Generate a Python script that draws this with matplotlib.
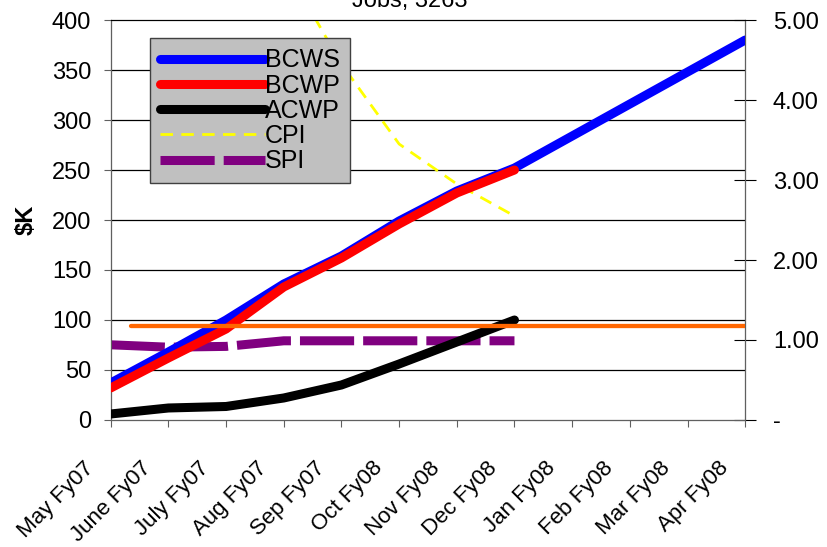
import matplotlib
matplotlib.use("Agg")
import matplotlib.pyplot as plt
from matplotlib.ticker import FuncFormatter, MultipleLocator
from matplotlib.transforms import ScaledTranslation

plt.rcParams["font.family"] = ["Liberation Sans", "DejaVu Sans"]

months = ["May Fy07", "June Fy07", "July Fy07", "Aug Fy07", "Sep Fy07", "Oct Fy08",
          "Nov Fy08", "Dec Fy08", "Jan Fy08", "Feb Fy08", "Mar Fy08", "Apr Fy08"]

# $K, cumulative
bcws = [37, 68, 100, 136, 164, 199, 229, 252, 284, 316, 348, 380]
bcwp = [32, 62, 91, 133, 162, 196, 227, 250]
acwp = [6, 12, 13.5, 22, 35, 56, 78, 100]

# indices (right axis)
cpi = [6.5, 6.2, 6.6, 5.7, 4.45, 3.45, 2.95, 2.55]
spi = [0.94, 0.91, 0.92, 0.99, 0.99, 0.99, 0.99, 0.99]

threshold = 94  # orange reference line, $K axis
title = "Jobs, 3263"

x_all = range(len(months))
x_act = range(len(bcwp))

fig = plt.figure(figsize=(8.28, 5.47), dpi=100)
ax = fig.add_axes([0.1337, 0.2322, 0.7663, 0.7312])
ax2 = ax.twinx()

ax.plot(x_all, bcws, color="#0000ff", lw=6.5, solid_capstyle="round", label="BCWS", zorder=3)
ax.plot(x_act, bcwp, color="#ff0000", lw=6.5, solid_capstyle="round", label="BCWP", zorder=4)
ax.plot(x_act, acwp, color="black", lw=6.5, solid_capstyle="round", label="ACWP", zorder=4)
ax.plot([0.35, len(months) - 1], [threshold, threshold], color="#ff6600", lw=3.1,
        solid_capstyle="round", zorder=5)

ax.set_xlim(0, len(months) - 1)
ax.set_ylim(0, 400)
ax.yaxis.set_major_locator(MultipleLocator(50))
ax.set_xticks(list(x_all))
ax.set_xticklabels([])
# month labels, rotated, ending just left of their tick
lab_tr = ax.get_xaxis_transform() + ScaledTranslation(-0.2, -0.45, fig.dpi_scale_trans)
for i, m in zip(x_all, months):
    ax.text(i, 0, m, transform=lab_tr, rotation=45, rotation_mode="anchor",
            ha="right", va="center", fontsize=16)
ax.tick_params(axis="y", labelsize=17, length=5, color="#606060", pad=9)
ax.tick_params(axis="x", length=5, color="#606060")
ax.set_ylabel("$K", fontsize=17, fontweight="bold", labelpad=10)
for side in ["left", "bottom", "right"]:
    ax.spines[side].set_color("#606060")
ax.spines["top"].set_color("black")

ax2.plot(x_act, cpi, color="#ffff00", lw=2, dashes=(4.5, 3), label="CPI", zorder=3)
ax2.plot(x_act, spi, color="#800080", lw=6.5, dashes=(6, 1), label="SPI", zorder=3)
ax2.set_ylim(0, 5)
ax2.yaxis.set_major_locator(MultipleLocator(1))
ax2.yaxis.set_major_formatter(FuncFormatter(lambda v, p: "-" if v == 0 else f"{v:.2f}"))
ax2.tick_params(axis="y", labelsize=17, length=16, direction="inout", pad=12)
ax2.spines["right"].set_color("black")
ax2.set_facecolor("#c0c0c0")

# gridlines drawn on the back axes
for v in range(50, 400, 50):
    ax2.axhline(v / 80.0, color="black", lw=0.9, zorder=0)

ax.set_zorder(ax2.get_zorder() + 1)
ax.patch.set_visible(False)

h1, l1 = ax.get_legend_handles_labels()
h2, l2 = ax2.get_legend_handles_labels()
leg = ax.legend(h1 + h2, l1 + l2, loc="upper left", bbox_to_anchor=(0.062, 0.954),
                fontsize=18, frameon=True, fancybox=False, handlelength=4.2,
                handletextpad=0.0, labelspacing=0.05, borderpad=0.4, borderaxespad=0)
leg.get_frame().set_facecolor("#c0c0c0")
leg.get_frame().set_edgecolor("#404040")
leg.get_frame().set_alpha(1)

fig.text(0.495, 0.987, title, ha="center", va="baseline", fontsize=17)

fig.savefig("out.png", dpi=100)
